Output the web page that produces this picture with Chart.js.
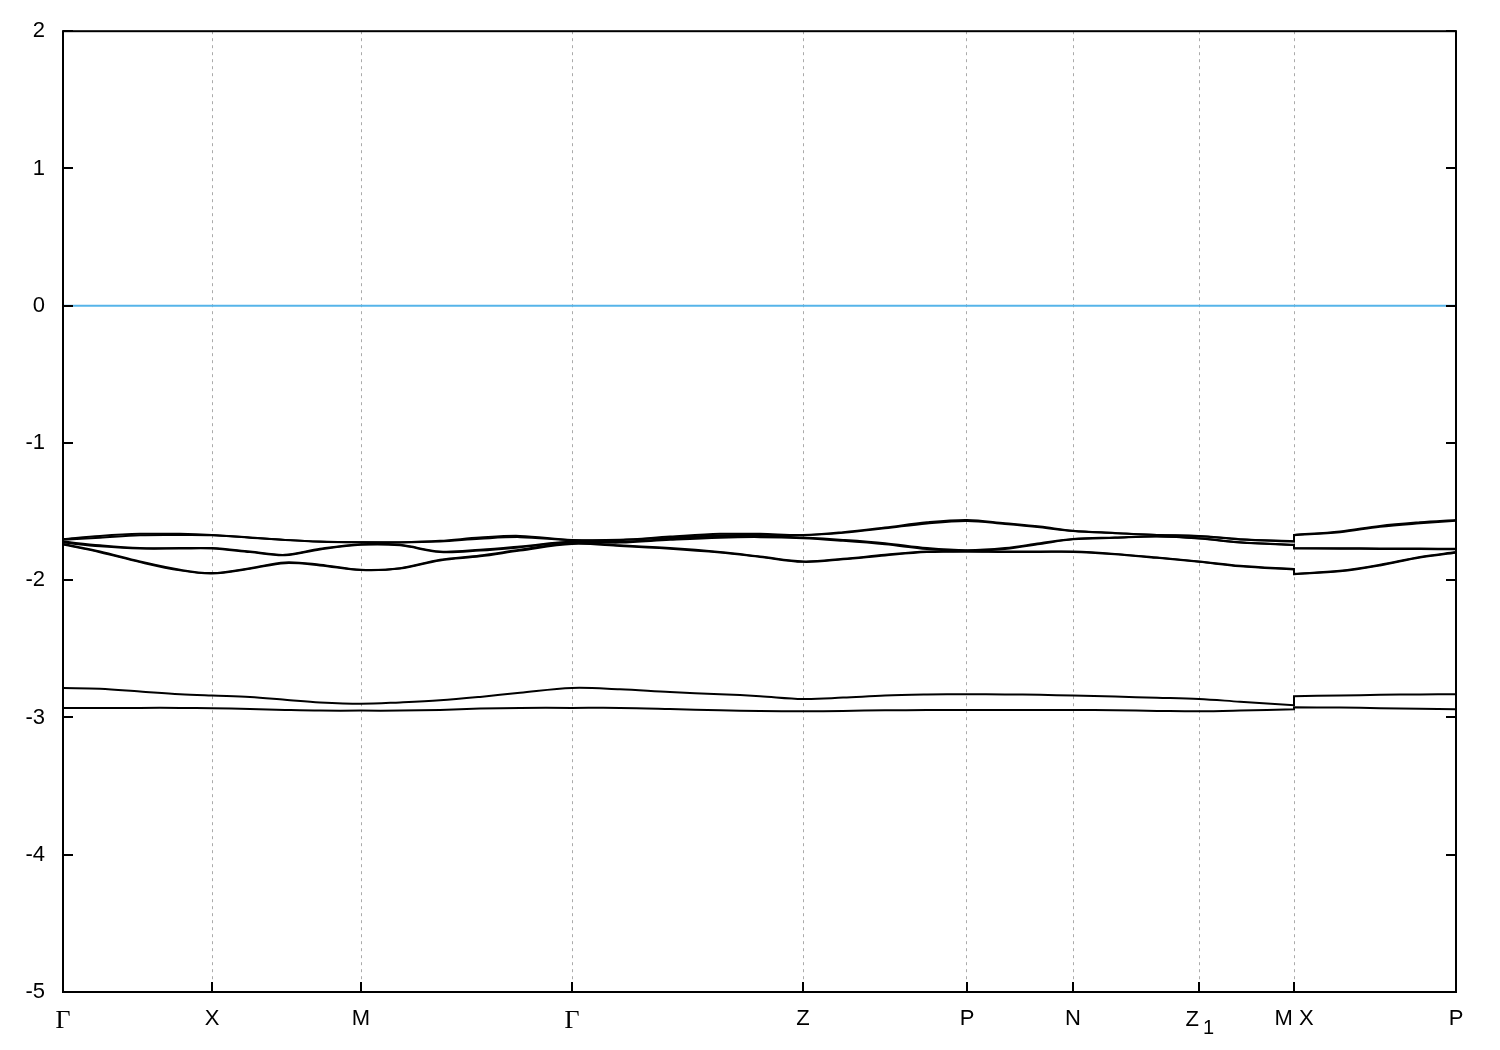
<!DOCTYPE html>
<html>
<head>
<meta charset="utf-8">
<script src="https://cdn.jsdelivr.net/npm/chart.js@4"></script>
<style>
  html, body { margin: 0; padding: 0; background: #fff; }
  #wrap { width: 1500px; height: 1050px; }
</style>
</head>
<body>
<div id="wrap"><canvas id="myChart" width="1500" height="1050"></canvas></div>
<script>
// path distance of each sample (the jump M|X sits at 1231 twice)
const kPath = [0, 37, 77, 117, 149, 187, 222, 257, 298, 337, 377, 417, 457, 509,
  557, 607, 657, 697, 740, 780, 822, 864, 904, 942, 977, 1010, 1052, 1094, 1136,
  1177, 1231, 1231, 1277, 1317, 1357, 1393];
const jumpIndex = 30;

const kTicks = [0, 149, 298, 509, 740, 904, 1010, 1136, 1231, 1393];
const kLabels = ['Γ', 'X', 'M', 'Γ', 'Z', 'P', 'N', 'Z', 'M X', 'P'];
const kSubscripts = ['', '', '', '', '', '', '', '1', '', ''];
const yTicks = [-5, -4, -3, -2, -1, 0, 1, 2];

// bands, eV
const band1 = [-1.700, -1.677, -1.662, -1.662, -1.670, -1.689, -1.706, -1.718, -1.723, -1.723, -1.713, -1.689, -1.677, -1.706,
  -1.705, -1.682, -1.662, -1.662, -1.670, -1.650, -1.616, -1.578, -1.561, -1.585, -1.609, -1.640, -1.655, -1.670, -1.677,
  -1.701, -1.716, -1.670, -1.645, -1.604, -1.578, -1.561];
const band2 = [-1.706, -1.690, -1.672, -1.670, -1.672, -1.690, -1.707, -1.719, -1.724, -1.725, -1.718, -1.698, -1.686, -1.708,
  -1.708, -1.690, -1.672, -1.668, -1.672, -1.655, -1.622, -1.586, -1.568, -1.590, -1.614, -1.642, -1.657, -1.671, -1.679,
  -1.703, -1.718, -1.672, -1.650, -1.610, -1.585, -1.567];
const band3 = [-1.718, -1.746, -1.766, -1.766, -1.766, -1.791, -1.815, -1.771, -1.737, -1.742, -1.791, -1.778, -1.754, -1.718,
  -1.720, -1.699, -1.682, -1.677, -1.689, -1.706, -1.730, -1.766, -1.781, -1.766, -1.730, -1.699, -1.689, -1.680, -1.694,
  -1.723, -1.742, -1.766, -1.767, -1.768, -1.769, -1.771];
const band4 = [-1.726, -1.752, -1.769, -1.769, -1.769, -1.795, -1.818, -1.776, -1.742, -1.746, -1.795, -1.784, -1.760, -1.722,
  -1.726, -1.706, -1.690, -1.686, -1.694, -1.713, -1.738, -1.772, -1.786, -1.772, -1.736, -1.702, -1.691, -1.682, -1.696,
  -1.726, -1.744, -1.768, -1.770, -1.772, -1.773, -1.775];
const band5 = [-1.735, -1.791, -1.863, -1.924, -1.948, -1.912, -1.870, -1.887, -1.924, -1.912, -1.851, -1.820, -1.778, -1.730,
  -1.746, -1.766, -1.795, -1.827, -1.863, -1.844, -1.815, -1.791, -1.791, -1.791, -1.791, -1.791, -1.808, -1.834, -1.863,
  -1.895, -1.919, -1.953, -1.931, -1.887, -1.830, -1.795];
const band6 = [-1.740, -1.796, -1.868, -1.928, -1.951, -1.916, -1.876, -1.892, -1.926, -1.915, -1.856, -1.826, -1.784, -1.736,
  -1.750, -1.770, -1.798, -1.830, -1.866, -1.848, -1.819, -1.795, -1.790, -1.794, -1.794, -1.794, -1.811, -1.837, -1.866,
  -1.898, -1.922, -1.956, -1.935, -1.892, -1.835, -1.800];
const band7 = [-2.785, -2.790, -2.810, -2.830, -2.840, -2.850, -2.870, -2.890, -2.900, -2.890, -2.875, -2.850, -2.820, -2.785,
  -2.795, -2.815, -2.830, -2.845, -2.865, -2.855, -2.840, -2.833, -2.830, -2.832, -2.835, -2.840, -2.848, -2.856, -2.865,
  -2.885, -2.910, -2.845, -2.840, -2.835, -2.832, -2.830];
const band8 = [-2.930, -2.930, -2.930, -2.930, -2.932, -2.938, -2.945, -2.950, -2.950, -2.950, -2.945, -2.935, -2.930, -2.930,
  -2.930, -2.938, -2.948, -2.953, -2.955, -2.952, -2.948, -2.946, -2.945, -2.945, -2.945, -2.945, -2.948, -2.952, -2.955,
  -2.950, -2.940, -2.925, -2.928, -2.932, -2.936, -2.940];

const bands = [band1, band2, band3, band4, band5, band6, band7, band8];
const fermiLevel = 0;

const sansFont = { family: 'Liberation Sans', size: 22 };
const serifFont = { family: 'Liberation Serif', size: 26 };

// doubling the two points of the jump keeps the vertical step straight
function toPoints(band) {
  const pts = [];
  band.forEach((e, i) => {
    pts.push({ x: kPath[i], y: e });
    if (i === jumpIndex || i === jumpIndex + 1) pts.push({ x: kPath[i], y: e });
  });
  return pts;
}

const frame = {
  id: 'frame',
  afterDraw(chart) {
    const { ctx, chartArea: a, scales } = chart;
    ctx.save();
    ctx.strokeStyle = '#000';
    ctx.lineWidth = 2;
    ctx.beginPath();
    yTicks.forEach(v => {
      const y = Math.round(scales.y.getPixelForValue(v));
      ctx.moveTo(a.left, y); ctx.lineTo(a.left + 10, y);
      ctx.moveTo(a.right, y); ctx.lineTo(a.right - 10, y);
    });
    kTicks.forEach(v => {
      const x = Math.round(scales.x.getPixelForValue(v));
      ctx.moveTo(x, a.bottom); ctx.lineTo(x, a.bottom - 10);
    });
    ctx.stroke();
    ctx.strokeRect(a.left, a.top, a.right - a.left, a.bottom - a.top);

    // labels with a subscript: letter left of the tick, index right of it
    ctx.fillStyle = '#000';
    ctx.textBaseline = 'alphabetic';
    kSubscripts.forEach((sub, i) => {
      if (!sub) return;
      const x = scales.x.getPixelForValue(kTicks[i]);
      ctx.font = sansFont.size + 'px ' + sansFont.family;
      ctx.textAlign = 'right';
      ctx.fillText(kLabels[i], x, a.bottom + 34);
      ctx.font = '20px ' + sansFont.family;
      ctx.textAlign = 'left';
      ctx.fillText(sub, x + 4, a.bottom + 42);
    });
    ctx.restore();
  }
};

const datasets = bands.map(b => ({
  data: toPoints(b),
  borderColor: '#000',
  borderWidth: 2,
  pointRadius: 0,
  tension: 0.35,
  fill: false
}));
datasets.push({
  data: [{ x: kTicks[0], y: fermiLevel }, { x: kTicks[kTicks.length - 1], y: fermiLevel }],
  borderColor: '#56b4e9',
  borderWidth: 2,
  pointRadius: 0,
  fill: false
});

new Chart(document.getElementById('myChart').getContext('2d'), {
  type: 'line',
  data: { datasets },
  options: {
    responsive: false,
    animation: false,
    layout: { padding: { top: 28, right: 44, left: 0, bottom: 0 } },
    plugins: { legend: { display: false }, tooltip: { enabled: false } },
    scales: {
      x: {
        type: 'linear',
        min: 0,
        max: 1393,
        afterBuildTicks: scale => { scale.ticks = kTicks.map(v => ({ value: v })); },
        afterFit: scale => { scale.height = 58; },
        ticks: {
          autoSkip: false,
          maxRotation: 0,
          color: '#000',
          padding: 14,
          callback: (v, i) => kSubscripts[i] ? '' : kLabels[i],
          font: ctx => (ctx.tick && ctx.tick.label === 'Γ') ? serifFont : sansFont
        },
        grid: { color: '#aaa', lineWidth: 1, drawTicks: false },
        border: { display: false, dash: [3, 4] }
      },
      y: {
        min: -5,
        max: 2,
        afterBuildTicks: scale => { scale.ticks = yTicks.map(v => ({ value: v })); },
        afterFit: scale => { scale.width = 63; },
        ticks: {
          color: '#000',
          padding: 18,
          font: sansFont
        },
        grid: { display: false, drawTicks: false },
        border: { display: false }
      }
    }
  },
  plugins: [frame]
});
</script>
</body>
</html>
